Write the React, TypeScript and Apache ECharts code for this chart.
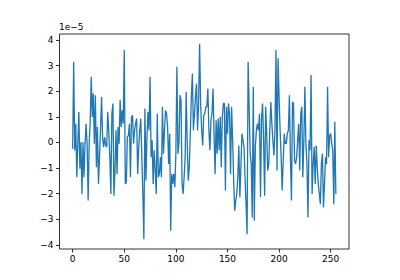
import React, { useEffect, useRef } from "react";
import * as echarts from "echarts";

// Values in units of 1e-5 (as shown by the axis offset text)
const values: number[] = [
  -0.25, 3.15, -0.31, 0.73, -1.36, -0.05, 1.19, -1.03, 0.01, -2.01,
  0.01, -1.36, -0.05, 0.73, -0.05, -2.27, -0.05, 0.8, 2.56, 0.99,
  1.91, -0.05, 1.84, -0.97, 0.6, -1.62, -0.57, 0.5, 1.78, 0.21,
  -0.18, 0.21, -0.12, -0.18, 1.19, 0.47, -0.57, -2.01, 1.12, 1.52,
  -2.08, -1.1, 0.47, -1.23, 0.6, -0.05,
  1.65, 0.6, 1.25, 0.73, 3.61, -1.62, -1.55, 0.21, 0.27, 0.73,
  -1.36, 0.99, 1.06, -0.05, 0.47, 0.73, 0.93, -1.23, -0.18, 0.47,
  0.93, -0.58, -2.01, -3.78, 1.32, -1.49, 0.21, 1.19, 0.47, 2.56,
  -0.58, 0.08, -1.62, -0.31, -1.1, -2.01, 1.12, -1.36, -1.23, -0.58,
  -1.36, 1.39, -0.44, 0.47, 1.25, 1.12, 0.6, -0.84, 0.34, -3.45,
  -1.23, -1.62, -1.23, -1.75,
  -0.44, 2.95, -0.44, -0.05, 1.84, 1.65, -1.62, -2.01, -1.36, -0.58,
  1.97, -0.05, -1.49, -0.97, 0.34, 1.78, 2.69, 0.47, 1.12, 1.78,
  2.3, 0.47, 1.52, 3.85, 1.52, 0.47, -0.12, 1.06, 1.12, 1.39,
  1.39, 2.1, 0.47, -0.31, 0.86, 1.12, 2.1, 0.34, -1.23, 0.86,
  -0.44, 0.93, -0.31, 0.99, -0.97, 0.99, 1.52, 1.52, -1.88, 1.39,
  0.34, 1.52, 1.12,
  -1.23, 1.39, 0.08, -1.49, -2.67, -2.27, -2.01, -1.36, -0.12, -2.14,
  -0.97, 0.34, 0.08, -0.18, -1.36, -2.41, -3.58, 3.15, 1.39, -0.44,
  -0.84, -2.93, 2.17, -3.06, -0.18, 0.47, 0.73, 0.47, 1.12, -2.14,
  0.93, 1.52, 0.08, -2.08, 1.39, 0.34, -1.1, -0.84, 0.47, 1.58,
  0.73, 0.08, -0.51, 0.47, 3.61, -1.1, 3.28, 1.78, 0.47, -0.58,
  -1.88, -0.71, 0.34, -0.05,
  -0.05, 0.34, 0.47, 1.84, -0.58, -2.27, 1.58, 1.52, -0.71, -0.84,
  -0.58, 0.08, 0.73, -1.1, 1.12, 1.39, -1.36, 0.08, 2.17, -0.05,
  -0.84, -2.93, 0.08, -0.31, 2.63, -2.01, -0.84, -0.18, -1.62, -0.12,
  -0.97, -1.62, -2.01, -2.41, -0.84, -0.44, -2.54, -1.62, -0.58, -0.84,
  2.17, -0.58, 0.27, 0.34, -0.05, -0.31, -2.41, 0.8, -2.01,
];

const xTicks: number[] = [0, 50, 100, 150, 200, 250];
const yTicks: number[] = [-4, -3, -2, -1, 0, 1, 2, 3, 4];
const offsetText = "1e\u22125";

const fmt = (v: number | string) => {
  const n = Number(v);
  return n < 0 ? "\u2212" + Math.abs(n) : String(n);
};

export default function App() {
  const ref = useRef<HTMLDivElement>(null);
  useEffect(() => {
    if (!ref.current) return;
    const chart = echarts.init(ref.current, null, { renderer: "svg" });
    const font = "DejaVu Sans";
    chart.setOption({
      animation: false,
      backgroundColor: "#ffffff",
      textStyle: { fontFamily: font },
      grid: {
        left: 59.5,
        right: 51,
        top: 34,
        bottom: 31,
        show: true,
        borderColor: "#000",
        borderWidth: 0.8,
        backgroundColor: "transparent",
      },
      graphic: [
        {
          type: "text",
          left: 59,
          top: 22,
          style: { text: offsetText, fontFamily: font, fontSize: 9, fill: "#000" },
        },
      ],
      xAxis: {
        type: "value",
        position: "bottom",
        min: -12.75,
        max: 267.75,
        splitLine: { show: false },
        axisLine: { show: false, onZero: false },
        axisTick: {
          show: true,
          inside: false,
          length: 3.5,
          lineStyle: { color: "#000", width: 0.8 },
          customValues: xTicks,
        },
        axisLabel: {
          customValues: xTicks,
          formatter: fmt,
          color: "#000",
          fontSize: 9,
          fontFamily: font,
          margin: 5,
        },
      },
      yAxis: {
        type: "value",
        position: "left",
        min: -4.16,
        max: 4.23,
        splitLine: { show: false },
        axisLine: { show: false, onZero: false },
        axisTick: {
          show: true,
          inside: false,
          length: 3.5,
          lineStyle: { color: "#000", width: 0.8 },
          customValues: yTicks,
        },
        axisLabel: {
          customValues: yTicks,
          formatter: fmt,
          color: "#000",
          fontSize: 9,
          fontFamily: font,
          margin: 6,
        },
      },
      series: [
        {
          type: "line",
          data: values.map((v, i) => [i, v]),
          showSymbol: false,
          symbol: "none",
          lineStyle: { color: "#1f77b4", width: 1.3 },
          itemStyle: { color: "#1f77b4" },
        },
      ],
    });
    return () => chart.dispose();
  }, []);
  return (
    <div
      ref={ref}
      style={{ position: "fixed", left: 0, top: 0, width: 400, height: 280 }}
    />
  );
}
